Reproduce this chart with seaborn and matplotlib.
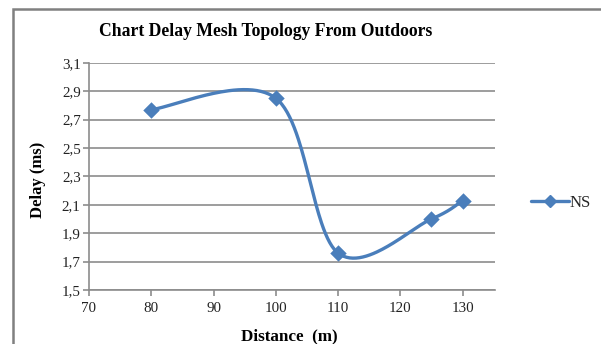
import numpy as np
import pandas as pd
import matplotlib
matplotlib.use("Agg")
import matplotlib.pyplot as plt
import seaborn as sns
from matplotlib.lines import Line2D
from matplotlib.patches import Rectangle

distance = [80, 100, 110, 125, 130]
delay = [2.77, 2.85, 1.76, 2.00, 2.13]
series_name = "NS"
x_ticks = [70, 80, 90, 100, 110, 120, 130]
y_ticks = [1.5, 1.7, 1.9, 2.1, 2.3, 2.5, 2.7, 2.9, 3.1]

sns.set_theme(style="white")
plt.rcParams['font.family'] = ['Liberation Serif', 'DejaVu Serif']

df = pd.DataFrame({"Distance": distance, "Delay": delay})

fig = plt.figure(figsize=(6.01, 3.44), dpi=100)
ax = fig.add_axes([89/601, 1-290/344, (495-89)/601, (290-62.7)/344])

color = "#4A7EBB"

# Excel-style smoothed curve (cardinal spline -> cubic Bezier) derived from data
P = np.column_stack([distance, delay]).astype(float)
n = len(P)
curve = []
t = np.linspace(0, 1, 60)[:, None]
for i in range(n - 1):
    p0 = P[i - 1] if i > 0 else P[i]
    p1 = P[i]
    p2 = P[i + 1]
    p3 = P[i + 2] if i + 2 < n else P[i + 1]
    c1 = p1 + (p2 - p0) / 6
    c2 = p2 - (p3 - p1) / 6
    seg = (1-t)**3*p1 + 3*(1-t)**2*t*c1 + 3*(1-t)*t**2*c2 + t**3*p2
    curve.append(seg)
curve = np.vstack(curve)
ax.plot(curve[:, 0], curve[:, 1], color=color, lw=2.4, solid_capstyle='round', zorder=3)
sns.scatterplot(data=df, x="Distance", y="Delay", marker="D", s=70, color=color,
                edgecolor=color, linewidth=0, ax=ax, zorder=4)

ax.set_xlim(70, 135.2)
ax.set_ylim(1.5, 3.1)
ax.set_xticks(x_ticks)
ax.set_yticks(y_ticks)
ax.set_xticklabels([str(v) for v in x_ticks])
ax.set_yticklabels([f"{v:.1f}".replace(".", ",") for v in y_ticks])
ax.grid(axis='y', color='#8C8C8C', lw=1.2)
ax.set_axisbelow(True)
for s in ['top', 'right']:
    ax.spines[s].set_visible(False)
for s in ['left', 'bottom']:
    ax.spines[s].set_color('#8C8C8C')
    ax.spines[s].set_linewidth(1.2)
ax.tick_params(axis='both', which='major', direction='out', length=4, width=1.2,
               color='#8C8C8C', labelsize=10.8, labelcolor='#222222', pad=2)
ax.tick_params(axis='x', bottom=True, pad=5)
ax.tick_params(axis='y', left=True)
ax.set_xlabel("")
ax.set_ylabel("")

fig.text(266/601, 1-31/344, "Chart Delay Mesh Topology From Outdoors", ha='center', va='center',
         fontsize=12.7, fontweight='bold', color='black')
fig.text(38/601, 1-180/344, "Delay (ms)", rotation=90, ha='center', va='center',
         fontsize=12, fontweight='bold', color='black')
fig.text(289/601, 1-336/344, "Distance  (m)", ha='center', va='center',
         fontsize=12.3, fontweight='bold', color='black')

handle = Line2D([0], [0], color=color, lw=2.4, marker='D', markersize=6)
fig.legend([handle], [series_name], loc='center left', bbox_to_anchor=(531/601, 1-203/344),
           frameon=False, fontsize=12, handlelength=2.3, handletextpad=0.0, borderpad=0,
           borderaxespad=0)

fig.add_artist(Rectangle((13/601, -0.1), 1.2, 1 - 9/344 + 0.1, transform=fig.transFigure,
                         fill=False, edgecolor='#808080', lw=1.8))

fig.savefig("out.png", dpi=100)
